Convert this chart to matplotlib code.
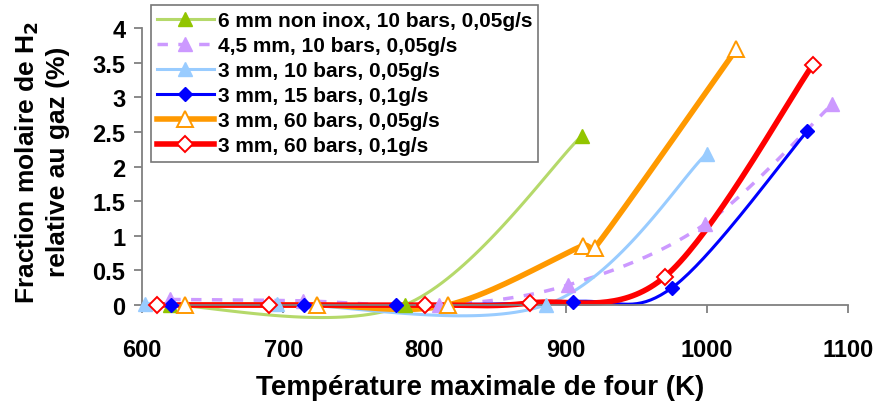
import numpy as np
import matplotlib
matplotlib.use("Agg")
import matplotlib.pyplot as plt
from matplotlib.lines import Line2D

plt.rcParams['font.family'] = ['Liberation Sans', 'DejaVu Sans']
plt.rcParams['font.weight'] = 'bold'

labels = ["6 mm non inox, 10 bars, 0,05g/s",
          "4,5 mm, 10 bars, 0,05g/s",
          "3 mm, 10 bars, 0,05g/s",
          "3 mm, 15 bars, 0,1g/s",
          "3 mm, 60 bars, 0,05g/s",
          "3 mm, 60 bars, 0,1g/s"]

green_x = [620, 786, 911.6]
green_y = [0.0, 0.0, 2.45]
purple_x = [620, 714, 810, 902, 998.7, 1088.7]
purple_y = [0.08, 0.06, 0.0, 0.29, 1.17, 2.90]
lblue_x = [601.8, 695.5, 885.8, 1000]
lblue_y = [0.02, 0.02, 0.0, 2.19]
blue_x = [620.7, 714.8, 780, 905, 975.4, 1071]
blue_y = [0.0, 0.0, 0.0, 0.05, 0.25, 2.51]
orange_x = [630.5, 724, 816.6, 912.5, 920.8, 1021]
orange_y = [0.0, 0.0, 0.0, 0.86, 0.83, 3.70]
red_x = [610.5, 690.2, 800.5, 875, 970.4, 1075]
red_y = [0.0, 0.0, 0.0, 0.03, 0.41, 3.47]

xticks = [600, 700, 800, 900, 1000, 1100]
yticks = [0, 0.5, 1, 1.5, 2, 2.5, 3, 3.5, 4]
ytick_labels = ["0", "0.5", "1", "1.5", "2", "2.5", "3", "3.5", "4"]

W, H = 881, 410
fig = plt.figure(figsize=(W / 100, H / 100), dpi=100)
ax = fig.add_axes([142 / W, 1 - 306 / H, (848 - 142) / W, (306 - 29.3) / H])
ax.set_xlim(600, 1100)
ax.set_ylim(0, 4)

for s in ['top', 'right']:
    ax.spines[s].set_visible(False)
for s in ['left', 'bottom']:
    ax.spines[s].set_color('#808080')
    ax.spines[s].set_linewidth(1.3)

ax.set_xticks(xticks)
ax.set_xticklabels([str(v) for v in xticks])
ax.set_yticks(yticks)
ax.set_yticklabels(ytick_labels)
ax.tick_params(axis='both', direction='out', length=6, width=1.3, color='#808080',
               labelsize=17)
ax.tick_params(axis='x', pad=18)
ax.tick_params(axis='y', pad=6)


def _clamp(v, lim):
    n = np.hypot(*v)
    return v if n <= lim or n == 0 else v * (lim / n)


def smooth(xs, ys, n=40):
    pts = ax.transData.transform(np.column_stack([xs, ys]))
    P = np.vstack([pts[0], pts, pts[-1]])
    out = []
    for i in range(1, len(P) - 2):
        p0, p1, p2, p3 = P[i - 1], P[i], P[i + 1], P[i + 2]
        seglen = np.hypot(*(p2 - p1))
        c1 = p1 + _clamp((p2 - p0) / 6.0, 0.5 * seglen)
        c2 = p2 - _clamp((p3 - p1) / 6.0, 0.5 * seglen)
        t = np.linspace(0, 1, n)[:, None]
        seg = ((1 - t) ** 3) * p1 + 3 * ((1 - t) ** 2) * t * c1 + 3 * (1 - t) * t ** 2 * c2 + t ** 3 * p2
        out.append(seg if i == 1 else seg[1:])
    out = np.vstack(out)
    d = ax.transData.inverted().transform(out)
    return d[:, 0], d[:, 1]


series = [
    dict(x=green_x, y=green_y, color='#B5D96A', lw=2.2, ls='-', marker='^', ms=10,
         mfc='#92C500', mec='#92C500', mew=1),
    dict(x=purple_x, y=purple_y, color='#CC99FF', lw=2.5, ls=(0, (3, 3)), marker='^', ms=10,
         mfc='#CC99FF', mec='#CC99FF', mew=1),
    dict(x=lblue_x, y=lblue_y, color='#99CCFF', lw=2.2, ls='-', marker='^', ms=10,
         mfc='#99CCFF', mec='#99CCFF', mew=1),
    dict(x=blue_x, y=blue_y, color='#0000FF', lw=2.2, ls='-', marker='D', ms=7.5,
         mfc='#0000FF', mec='#0000FF', mew=1),
    dict(x=orange_x, y=orange_y, color='#FF9900', lw=4, ls='-', marker='^', ms=11,
         mfc='white', mec='#FF9900', mew=1.4),
    dict(x=red_x, y=red_y, color='#FF0000', lw=4, ls='-', marker='D', ms=8,
         mfc='white', mec='#FF0000', mew=1.4),
]

handles = []
for k, s in enumerate(series):
    sx, sy = smooth(s['x'], s['y'])
    ax.plot(sx, sy, color=s['color'], lw=s['lw'], ls=s['ls'], clip_on=False, zorder=2 + k * 0.01,
            solid_capstyle='butt')
for k, s in enumerate(series):
    ax.plot(s['x'], s['y'], ls='none', marker=s['marker'], ms=s['ms'], mfc=s['mfc'],
            mec=s['mec'], mew=s['mew'], clip_on=False, zorder=4 + k * 0.01)
    handles.append(Line2D([], [], color=s['color'], lw=s['lw'], ls=s['ls'], marker=s['marker'],
                          ms=s['ms'], mfc=s['mfc'], mec=s['mec'], mew=s['mew']))

leg = fig.legend(handles, labels, loc='upper left', bbox_to_anchor=(151 / W, 1 - 6 / H),
                 borderaxespad=0, fontsize=15, frameon=True, fancybox=False,
                 handlelength=2.7, handletextpad=0.2, labelspacing=0.29, borderpad=0.3)
leg.get_frame().set_edgecolor('#555555')
leg.get_frame().set_linewidth(1.2)
for t in leg.get_texts():
    t.set_fontweight('bold')

fig.text(480 / W, 1 - 388 / H, "Température maximale de four (K)", ha='center', va='center',
         fontsize=20, fontweight='bold')
fig.text(27 / W, 1 - 162 / H, "Fraction molaire de H$_\\mathbf{2}$", ha='center', va='center',
         rotation=90, fontsize=19, fontweight='bold')
fig.text(58 / W, 1 - 162 / H, "relative au gaz (%)", ha='center', va='center',
         rotation=90, fontsize=19, fontweight='bold')

fig.savefig("out.png", dpi=100)
